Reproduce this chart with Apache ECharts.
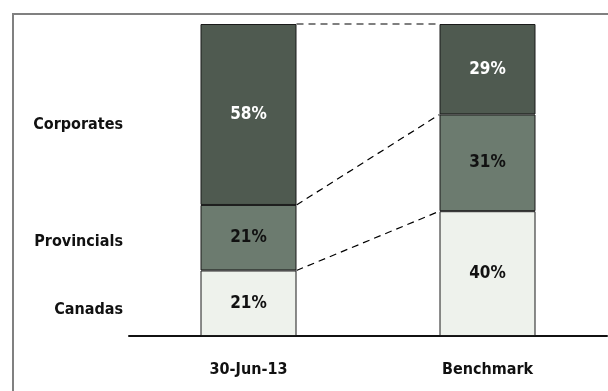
<!DOCTYPE html>
<html><head><meta charset="utf-8">
<script src="https://cdn.jsdelivr.net/npm/echarts@6/dist/echarts.min.js"></script>
<style>html,body{margin:0;padding:0;background:#fff}#c{width:608px;height:391px}</style>
</head><body><div id="c"></div>
<script>
const categories = ['30-Jun-13', 'Benchmark'];
const canadas = [21, 40];
const provincials = [21, 31];
const corporates = [58, 29];
const seriesNames = ['Canadas', 'Provincials', 'Corporates'];

const FONT = '"DejaVu Sans Condensed", "DejaVu Sans", sans-serif';
const BAR_W = 96;
const colors = ['#eef2ec', '#6c7b6f', '#4f5a50'];
const labelColors = ['#111', '#111', '#fff'];
const valuesBySeries = [canadas, provincials, corporates];

function cum(i, k) { let s = 0; for (let j = 0; j <= k; j++) s += valuesBySeries[j][i]; return s; }
const connectors = [];
for (let k = 0; k < valuesBySeries.length; k++) {
  connectors.push([0, cum(0, k), 1, cum(1, k)]);
}

const chart = echarts.init(document.getElementById('c'));
const barSeries = valuesBySeries.map((vals, k) => ({
  type: 'bar',
  name: seriesNames[k],
  stack: 'total',
  barWidth: BAR_W,
  data: vals,
  itemStyle: { color: colors[k], borderColor: '#1a1a1a', borderWidth: 1 },
  label: {
    show: true, position: 'inside',
    formatter: p => p.value + '%',
    color: labelColors[k], fontFamily: FONT, fontWeight: 'bold', fontSize: 17
  },
  silent: true
}));

const lineSeries = {
  type: 'custom',
  data: connectors,
  encode: { x: [0, 2], y: [1, 3] },
  z: 5,
  silent: true,
  renderItem: function (params, api) {
    const a = api.coord([api.value(0), api.value(1)]);
    const b = api.coord([api.value(2), api.value(3)]);
    return {
      type: 'line',
      shape: { x1: a[0] + BAR_W / 2, y1: a[1], x2: b[0] - BAR_W / 2, y2: b[1] },
      style: { stroke: '#000', lineWidth: 1.2, lineDash: [7, 5] }
    };
  }
};

chart.setOption({
  animation: false,
  grid: { left: 129, right: 1, top: 24, bottom: 55 },
  xAxis: {
    type: 'category', data: categories,
    axisLine: { lineStyle: { color: '#111', width: 2 } },
    axisTick: { show: false },
    axisLabel: { color: '#111', fontFamily: FONT, fontWeight: 'bold', fontSize: 16, margin: 26 }
  },
  yAxis: { type: 'value', min: 0, max: 100, show: false, splitLine: { show: false } },
  graphic: [
    { type: 'rect', shape: { x: 13, y: 14, width: 620, height: 400 }, style: { fill: 'none', stroke: '#808080', lineWidth: 2 }, z: -1 },
    { type: 'text', x: 123, y: 125, style: { text: seriesNames[2], align: 'right', verticalAlign: 'middle', font: 'bold 16px ' + FONT, fill: '#111' } },
    { type: 'text', x: 123, y: 242, style: { text: seriesNames[1], align: 'right', verticalAlign: 'middle', font: 'bold 16px ' + FONT, fill: '#111' } },
    { type: 'text', x: 123, y: 310, style: { text: seriesNames[0], align: 'right', verticalAlign: 'middle', font: 'bold 16px ' + FONT, fill: '#111' } }
  ],
  series: barSeries.concat([lineSeries])
});
</script></body></html>
